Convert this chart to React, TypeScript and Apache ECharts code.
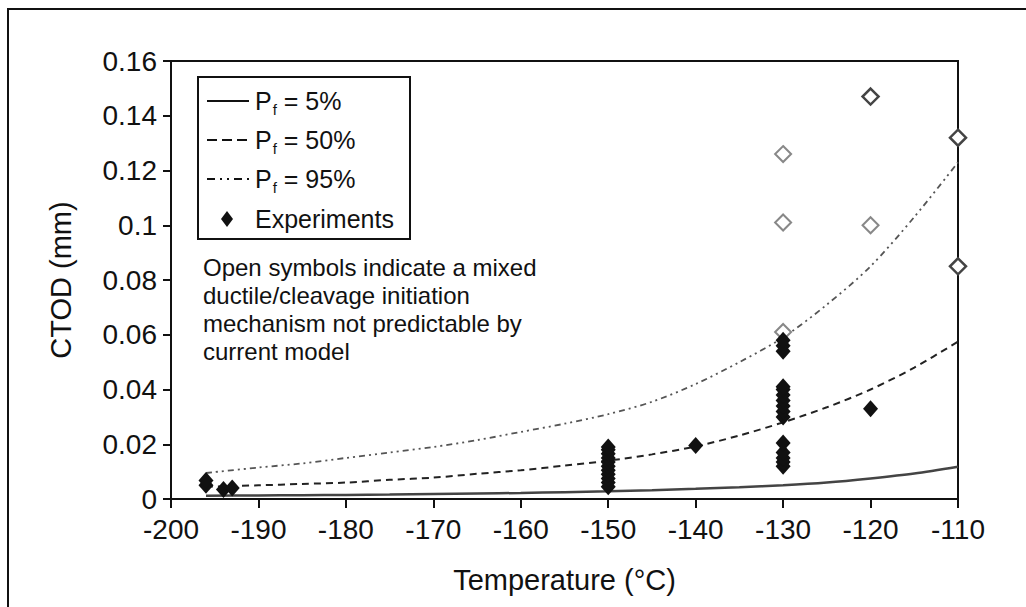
import React, { useEffect, useRef } from "react";
import * as echarts from "echarts";

// Curve temperatures (°C)
const curveTemps = [-196, -190, -185, -180, -175, -170, -165, -160, -155, -150, -145, -140, -135, -130, -125, -120, -115, -110];
// Pf = 5 %
const pf5 = [0.0012, 0.0013, 0.0014, 0.0015, 0.0016, 0.0018, 0.002, 0.0022, 0.0025, 0.0028, 0.0032, 0.0037, 0.0043, 0.005, 0.006, 0.0075, 0.0093, 0.0118];
// Pf = 50 %
const pf50 = [0.0045, 0.005, 0.0055, 0.006, 0.007, 0.0078, 0.0092, 0.0105, 0.0122, 0.014, 0.0163, 0.0192, 0.0232, 0.028, 0.0335, 0.04, 0.048, 0.0575];
// Pf = 95 %
const pf95 = [0.0095, 0.0115, 0.013, 0.015, 0.017, 0.019, 0.0215, 0.0245, 0.0275, 0.031, 0.0355, 0.042, 0.05, 0.059, 0.071, 0.085, 0.103, 0.123];

// Experiments (filled symbols): [temperature, CTOD]
const experiments: [number, number][] = [
  [-196, 0.005], [-196, 0.0068], [-194, 0.0035], [-193, 0.004],
  [-150, 0.0045], [-150, 0.006], [-150, 0.0075], [-150, 0.009], [-150, 0.0105], [-150, 0.012],
  [-150, 0.0135], [-150, 0.015], [-150, 0.0165], [-150, 0.018], [-150, 0.019],
  [-140, 0.0195],
  [-130, 0.012], [-130, 0.0135], [-130, 0.015], [-130, 0.017], [-130, 0.0205],
  [-130, 0.03], [-130, 0.032], [-130, 0.034], [-130, 0.036], [-130, 0.038], [-130, 0.04], [-130, 0.041],
  [-130, 0.054], [-130, 0.056], [-130, 0.058],
  [-120, 0.033],
];
// Open symbols (mixed ductile/cleavage initiation)
const openDark: [number, number][] = [[-120, 0.147], [-110, 0.132], [-110, 0.085]];
const openLight: [number, number][] = [[-130, 0.126], [-130, 0.101], [-130, 0.061], [-120, 0.1]];

const xTicks = { min: -200, max: -110, step: 10 };
const yTicks = { min: 0, max: 0.16, step: 0.02 };

const legendLabels = ["5%", "50%", "95%"];
const noteLines = [
  "Open symbols indicate a mixed",
  "ductile/cleavage initiation",
  "mechanism not predictable by",
  "current model",
];

const FONT = "'Liberation Sans', Arial, Helvetica, sans-serif";

export default function App() {
  const ref = useRef<HTMLDivElement>(null);
  useEffect(() => {
    if (!ref.current) return;
    const chart = echarts.init(ref.current, undefined, { renderer: "svg" });
    const pair = (vals: number[]) => curveTemps.map((t, i) => [t, vals[i]]);

    const legendRows = [101, 140, 179];
    const legendDash: any[] = [null, [10, 5], [8, 5, 2, 5, 2, 5]];
    const graphic: any[] = [
      // outer frame
      { type: "rect", shape: { x: 8, y: 9, width: 1040, height: 700 }, style: { fill: "none", stroke: "#111", lineWidth: 2 }, silent: true },
      // legend box
      { type: "rect", shape: { x: 198, y: 77, width: 212, height: 162 }, style: { fill: "#fff", stroke: "#111", lineWidth: 2 }, z: 10 },
    ];
    legendLabels.forEach((lab, i) => {
      graphic.push({
        type: "line",
        shape: { x1: 207, y1: legendRows[i], x2: 249, y2: legendRows[i] },
        style: { stroke: "#111", lineWidth: 2, lineDash: legendDash[i] },
        z: 11,
      });
      graphic.push({
        type: "text",
        x: 255,
        y: legendRows[i],
        z: 11,
        style: {
          text: `{p|P}{s|f}{p| = ${lab}}`,
          verticalAlign: "middle",
          rich: {
            p: { fontSize: 25, fontFamily: FONT, fill: "#111" },
            s: { fontSize: 15, fontFamily: FONT, fill: "#111", padding: [16, 0, 0, 1] },
          },
        },
      });
    });
    // legend diamond for experiments
    graphic.push({
      type: "polygon",
      shape: { points: [[227, 211], [233, 219], [227, 227], [221, 219]] },
      style: { fill: "#111" },
      z: 11,
    });
    graphic.push({
      type: "text",
      x: 255,
      y: 219,
      z: 11,
      style: { text: "Experiments", fontSize: 25, fontFamily: FONT, fill: "#111", verticalAlign: "middle" },
    });
    noteLines.forEach((ln, i) => {
      graphic.push({
        type: "text",
        x: 203,
        y: 267 + i * 28,
        z: 11,
        style: { text: ln, fontSize: 24, fontFamily: FONT, fill: "#111", verticalAlign: "middle" },
      });
    });

    chart.setOption({
      animation: false,
      backgroundColor: "#fff",
      grid: { left: 171, right: 68, top: 61, bottom: 108, show: true, borderColor: "#111", borderWidth: 2, backgroundColor: "transparent" },
      xAxis: {
        type: "value",
        min: xTicks.min,
        max: xTicks.max,
        interval: xTicks.step,
        name: "Temperature (°C)",
        nameLocation: "middle",
        nameGap: 66,
        nameTextStyle: { fontSize: 29, fontFamily: FONT, color: "#111" },
        axisLine: { onZero: false, lineStyle: { color: "#111", width: 2 } },
        axisTick: { show: true, inside: false, length: 9, lineStyle: { color: "#111", width: 2 } },
        axisLabel: { fontSize: 28, fontFamily: FONT, color: "#111", margin: 19, lineHeight: 22 },
        splitLine: { show: false },
      },
      yAxis: {
        type: "value",
        min: yTicks.min,
        max: yTicks.max,
        interval: yTicks.step,
        name: "CTOD (mm)",
        nameLocation: "middle",
        nameGap: 96,
        nameTextStyle: { fontSize: 29, fontFamily: FONT, color: "#111" },
        axisLine: { onZero: false, lineStyle: { color: "#111", width: 2 } },
        axisTick: { show: true, inside: false, length: 8, lineStyle: { color: "#111", width: 2 } },
        axisLabel: { fontSize: 28, fontFamily: FONT, color: "#111", margin: 14, lineHeight: 22 },
        splitLine: { show: false },
      },
      graphic,
      series: [
        {
          name: "Pf = 5%",
          type: "line",
          data: pair(pf5),
          smooth: 0.3,
          showSymbol: false,
          lineStyle: { color: "#444", width: 2.5, type: "solid" },
          z: 3,
        },
        {
          name: "Pf = 50%",
          type: "line",
          data: pair(pf50),
          smooth: 0.3,
          showSymbol: false,
          lineStyle: { color: "#222", width: 2, type: [7, 5] },
          z: 3,
        },
        {
          name: "Pf = 95%",
          type: "line",
          data: pair(pf95),
          smooth: 0.3,
          showSymbol: false,
          lineStyle: { color: "#555", width: 1.8, type: [6, 4, 2, 4, 2, 4] },
          z: 3,
        },
        {
          name: "Experiments",
          type: "scatter",
          data: experiments,
          symbol: "diamond",
          symbolSize: [15, 17],
          itemStyle: { color: "#111", opacity: 1 },
          z: 5,
        },
        {
          name: "Mixed initiation",
          type: "scatter",
          data: openDark,
          symbol: "diamond",
          symbolSize: [16, 16],
          itemStyle: { color: "#fff", borderColor: "#444", borderWidth: 2.5, opacity: 1 },
          z: 6,
        },
        {
          name: "Mixed initiation (light)",
          type: "scatter",
          data: openLight,
          symbol: "diamond",
          symbolSize: [16, 16],
          itemStyle: { color: "#fff", borderColor: "#888", borderWidth: 2, opacity: 1 },
          z: 4,
        },
      ],
    });
    return () => chart.dispose();
  }, []);

  return (
    <div
      ref={ref}
      style={{ position: "fixed", left: 0, top: 0, width: 1026, height: 607, background: "#fff" }}
    />
  );
}
